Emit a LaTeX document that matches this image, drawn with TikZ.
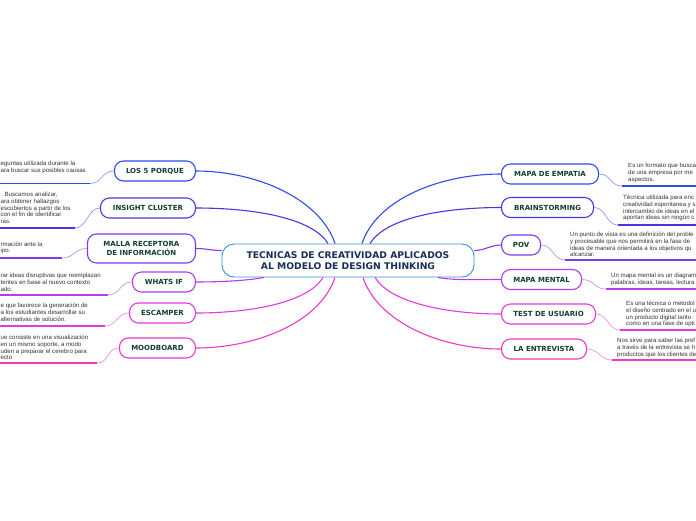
\documentclass[tikz,border=0pt]{standalone}
\usepackage{fontspec}
\setmainfont{Liberation Sans}
\newfontfamily\lblfont{DejaVu Sans}
\usetikzlibrary{calc}
\definecolor{cA}{HTML}{2F4BF0}
\definecolor{cB}{HTML}{4A35E6}
\definecolor{cC}{HTML}{7A3DE8}
\definecolor{cD}{HTML}{B23DEA}
\definecolor{cE}{HTML}{E23AE6}
\definecolor{cF}{HTML}{F03AC4}
\definecolor{lbl}{HTML}{12402E}
\definecolor{ctr}{HTML}{3A8FD6}
\definecolor{ctrtxt}{HTML}{16305A}
\definecolor{txt}{HTML}{333333}
\begin{document}
\begin{tikzpicture}[x=1pt,y=-1pt,
 topic/.style={draw, line width=1.1pt, rounded corners=9pt, fill=white, minimum height=20pt, inner sep=2pt, font=\lblfont\bfseries\fontsize{7}{8.6}\selectfont, text=lbl, align=center},
 desc/.style={inner sep=0pt, align=left, font=\fontsize{6.1}{6.7}\selectfont, text=txt, anchor=north west},
 mainc/.style={line width=1.1pt},
 subc/.style={line width=0.7pt},
 uline/.style={line width=1.6pt}]
\fill[white] (0,0) rectangle (696,520);
\useasboundingbox (0,0) rectangle (696,520);

% centre
\node[draw=ctr, line width=0.9pt, rounded corners=12pt, minimum width=252pt, minimum height=33pt, fill=white,
  font=\lblfont\bfseries\fontsize{9.2}{11.7}\selectfont, text=ctrtxt, align=center] (c) at (348,260.5)
  {TECNICAS DE CREATIVIDAD APLICADOS\\AL MODELO DE DESIGN THINKING};

% left topics
\node[topic, draw=cA, minimum width=81pt, anchor=east] (l1) at (196,171) {LOS 5 PORQUE};
\node[topic, draw=cB, minimum width=95pt, anchor=east] (l2) at (196,208) {INSIGHT CLUSTER};
\node[topic, draw=cC, minimum width=108pt, minimum height=29pt, anchor=east] (l3) at (196,248.5) {MALLA RECEPTORA\\DE INFORMACIÓN};
\node[topic, draw=cD, minimum width=63pt, anchor=east] (l4) at (196,282) {WHATS IF};
\node[topic, draw=cE, minimum width=66pt, anchor=east] (l5) at (196,313) {ESCAMPER};
\node[topic, draw=cF, minimum width=76pt, anchor=east] (l6) at (196,348) {MOODBOARD};

% right topics
\node[topic, draw=cA, minimum width=97pt, anchor=west] (r1) at (501,174) {MAPA DE EMPATIA};
\node[topic, draw=cB, minimum width=92pt, anchor=west] (r2) at (501,207.5) {BRAINSTORMING};
\node[topic, draw=cC, minimum width=39pt, anchor=west] (r3) at (501,245) {POV};
\node[topic, draw=cD, minimum width=80pt, anchor=west] (r4) at (501,279.5) {MAPA MENTAL};
\node[topic, draw=cE, minimum width=94pt, anchor=west] (r5) at (501,314) {TEST DE USUARIO};
\node[topic, draw=cF, minimum width=85pt, anchor=west] (r6) at (501,349) {LA ENTREVISTA};

% main connectors left
\draw[mainc, cA] ($(c.north)+(-13,0)$) .. controls +(-15,-45) and +(60,0) .. (l1.east);
\draw[mainc, cB] ($(c.north)+(-20,0)$) .. controls +(-15,-25) and +(60,0) .. (l2.east);
\draw[mainc, cC] ($(c.west)+(0,-10)$) .. controls +(-10,0) and +(10,0) .. (l3.east);
\draw[mainc, cD] ($(c.south)+(-84,0)$) .. controls +(-15,3) and +(25,0) .. (l4.east);
\draw[mainc, cE] ($(c.south)+(-25,0)$) .. controls +(-15,25) and +(55,0) .. (l5.east);
\draw[mainc, cF] ($(c.south)+(-13,0)$) .. controls +(-15,45) and +(60,0) .. (l6.east);
% main connectors right
\draw[mainc, cA] ($(c.north)+(14,0)$) .. controls +(15,-45) and +(-60,0) .. (r1.west);
\draw[mainc, cB] ($(c.north)+(22,0)$) .. controls +(15,-25) and +(-60,0) .. (r2.west);
\draw[mainc, cC] ($(c.east)+(0,-10)$) .. controls +(10,0) and +(-10,0) .. (r3.west);
\draw[mainc, cD] ($(c.south)+(90,0)$) .. controls +(15,3) and +(-25,0) .. (r4.west);
\draw[mainc, cE] ($(c.south)+(27,0)$) .. controls +(15,25) and +(-55,0) .. (r5.west);
\draw[mainc, cF] ($(c.south)+(15,0)$) .. controls +(15,45) and +(-60,0) .. (r6.west);

% underline coordinates left
\coordinate (ul1) at (90,183.5);  \coordinate (ul1e) at (-5,183.5);
\coordinate (ul2) at (75,228);    \coordinate (ul2e) at (-5,228);
\coordinate (ul3) at (62,258);    \coordinate (ul3e) at (-5,258);
\coordinate (ul4) at (108,295);   \coordinate (ul4e) at (-5,295);
\coordinate (ul5) at (105,326);   \coordinate (ul5e) at (-5,326);
\coordinate (ul6) at (97,363);    \coordinate (ul6e) at (-5,363);
% underline coordinates right
\coordinate (ur1) at (622,186);   \coordinate (ur1e) at (701,186);
\coordinate (ur2) at (618,225);   \coordinate (ur2e) at (701,225);
\coordinate (ur3) at (565,260);   \coordinate (ur3e) at (701,260);
\coordinate (ur4) at (606,289);   \coordinate (ur4e) at (701,289);
\coordinate (ur5) at (620,330);   \coordinate (ur5e) at (701,330);
\coordinate (ur6) at (612,360);   \coordinate (ur6e) at (701,360);

% sub connectors left
\draw[subc, cA!55] (l1.west) .. controls +(-12,0) and +(12,0) .. (ul1);
\draw[subc, cB!55] (l2.west) .. controls +(-12,0) and +(12,0) .. (ul2);
\draw[subc, cC!55] (l3.west) .. controls +(-12,0) and +(12,0) .. (ul3);
\draw[subc, cD!55] (l4.west) .. controls +(-12,0) and +(12,0) .. (ul4);
\draw[subc, cE!55] (l5.west) .. controls +(-12,0) and +(12,0) .. (ul5);
\draw[subc, cF!55] (l6.west) .. controls +(-12,0) and +(12,0) .. (ul6);
% sub connectors right
\draw[subc, cA!55] (r1.east) .. controls +(12,0) and +(-12,0) .. (ur1);
\draw[subc, cB!55] (r2.east) .. controls +(12,0) and +(-12,0) .. (ur2);
\draw[subc, cC!55] (r3.east) .. controls +(12,0) and +(-12,0) .. (ur3);
\draw[subc, cD!55] (r4.east) .. controls +(12,0) and +(-12,0) .. (ur4);
\draw[subc, cE!55] (r5.east) .. controls +(12,0) and +(-12,0) .. (ur5);
\draw[subc, cF!55] (r6.east) .. controls +(12,0) and +(-12,0) .. (ur6);

% underlines
\draw[uline, cA] (ul1) -- (ul1e);
\draw[uline, cB] (ul2) -- (ul2e);
\draw[uline, cC] (ul3) -- (ul3e);
\draw[uline, cD] (ul4) -- (ul4e);
\draw[uline, cE] (ul5) -- (ul5e);
\draw[uline, cF] (ul6) -- (ul6e);
\draw[uline, cA] (ur1) -- (ur1e);
\draw[uline, cB] (ur2) -- (ur2e);
\draw[uline, cC] (ur3) -- (ur3e);
\draw[uline, cD] (ur4) -- (ur4e);
\draw[uline, cE] (ur5) -- (ur5e);
\draw[uline, cF] (ur6) -- (ur6e);

% texts left
\node[desc] (tl1) at (0.5,161) {eguntas utilizada durante la\\ara buscar sus posibles causas};
\node[desc] (tl2) at (0.5,192) {. Buscamos analizar,\\ara obtener hallazgos\\escubiertos a partir de los\\con el fin de identificar\\ras.};
\node[desc] (tl3) at (0.5,241.5) {rmación ante la\\ipo.};
\node[desc] (tl4) at (0.5,273) {rar ideas disruptivas que reemplazan\\tentes en base al nuevo contexto\\ado.};
\node[desc] (tl5) at (0.5,303) {e que favorece la generación de\\a los estudiantes desarrollar su\\alternativas de solución.};
\node[desc] (tl6) at (0.5,335) {ue consiste en una visualización\\en un mismo soporte, a modo\\uden a preparar el cerebro para\\ecto};
% texts right
\node[desc] (tr1) at (628,163) {Es un formato que busca\\de una empresa por me\\aspectos.};
\node[desc] (tr2) at (623,195) {Técnica utilizada para enc\\creatividad espontanea y s\\intercambio de ideas en el\\aportan ideas sin ningún c};
\node[desc] (tr3) at (570,232) {Un punto de vista es una definición del proble\\y procesable que nos permitirá en la fase de\\ideas de manera orientada a los objetivos qu\\alcanzar.};
\node[desc] (tr4) at (611,273) {Un mapa mental es un diagram\\palabras, ideas, tareas, lectura};
\node[desc] (tr5) at (626,301) {Es una técnica o metodol\\el diseño centrado en el u\\un producto digital tanto\\como en una fase de opti};
\node[desc] (tr6) at (617,338) {Nos sirve para saber las pref\\a través de la entrevista se h\\productos que los clientes de};
\end{tikzpicture}
\end{document}
